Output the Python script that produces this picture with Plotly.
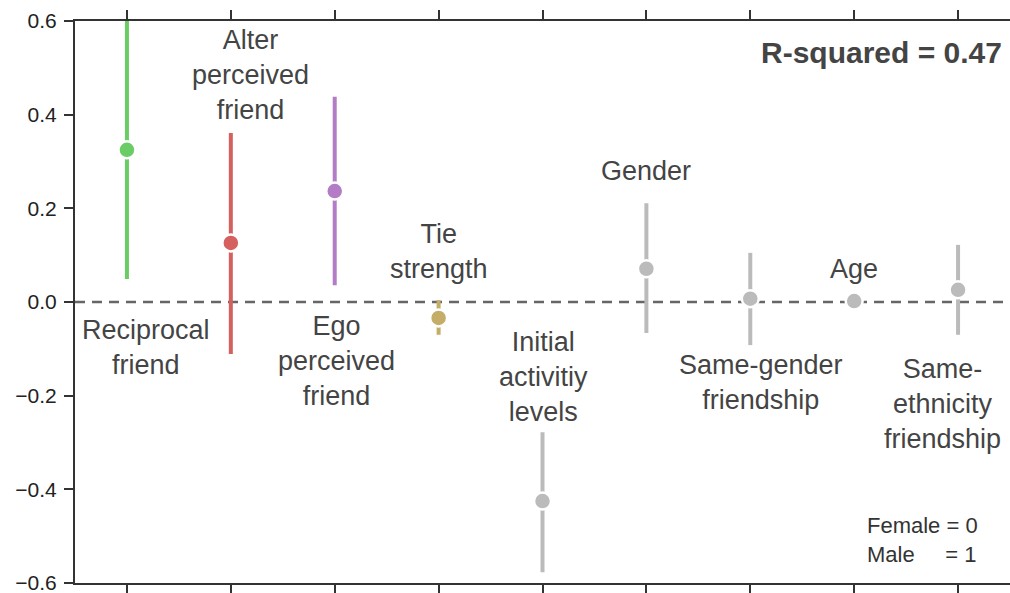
import plotly.graph_objects as go

# ---- data ----
categories = ["Reciprocal friend", "Alter perceived friend", "Ego perceived friend",
              "Tie strength", "Initial activitiy levels", "Gender",
              "Same-gender friendship", "Age", "Same-ethnicity friendship"]
estimates = [0.325, 0.126, 0.237, -0.034, -0.425, 0.071, 0.007, 0.002, 0.026]
ci_upper = [0.620, 0.361, 0.438, 0.004, -0.278, 0.211, 0.105, 0.004, 0.122]
ci_lower = [0.049, -0.111, 0.036, -0.070, -0.577, -0.066, -0.092, 0.000, -0.070]
colors = ["#6ACC65", "#D65F5F", "#B47CC7", "#C4AD66", "#BBBBBB",
          "#BBBBBB", "#BBBBBB", "#BBBBBB", "#BBBBBB"]
label_text = ["Reciprocal<br>friend", "Alter<br>perceived<br>friend", "Ego<br>perceived<br>friend",
              "Tie<br>strength", "Initial<br>activitiy<br>levels", "Gender",
              "Same-gender<br>friendship", "Age", "Same-<br>ethnicity<br>friendship"]
# label anchor (x offset in category units, y in data units)
label_x = [0.18, 0.19, 0.02, 0.0, 0.01, 0.0, 0.10, 0.0, -0.15]
label_y = [-0.097, 0.485, -0.126, 0.108, -0.160, 0.280, -0.172, 0.070, -0.218]
yticks = [-0.6, -0.4, -0.2, 0.0, 0.2, 0.4, 0.6]
ytick_text = [("\u2212" if v < 0 else "") + f"{abs(v):.1f}" for v in yticks]

FONT = "Liberation Sans, Arial, Helvetica, sans-serif"
xs = list(range(len(categories)))

fig = go.Figure()
fig.add_hline(y=0, line=dict(color="#666666", width=2.5, dash="10px,7px"), layer="below")

for i in xs:
    fig.add_trace(go.Scatter(
        x=[i], y=[estimates[i]], mode="markers",
        marker=dict(size=17, color=colors[i], line=dict(color="white", width=2.5)),
        error_y=dict(type="data", symmetric=False,
                     array=[ci_upper[i] - estimates[i]],
                     arrayminus=[estimates[i] - ci_lower[i]],
                     color=colors[i], thickness=4, width=0),
        showlegend=False, cliponaxis=True,
    ))

for i in xs:
    fig.add_annotation(x=i + label_x[i], y=label_y[i], text=label_text[i],
                       showarrow=False, xanchor="center", yanchor="middle",
                       font=dict(family=FONT, size=27, color="#444444"))

fig.add_annotation(x=1, y=1, xref="paper", yref="paper", xanchor="right", yanchor="top",
                   xshift=-6, yshift=-13,
                   text="<b>R-squared = 0.47</b>", showarrow=False,
                   font=dict(family=FONT, size=30, color="#444444"))
fig.add_annotation(x=1, y=0, xref="paper", yref="paper", xanchor="left", yanchor="bottom",
                   xshift=-145, yshift=14, align="left",
                   text="Female = 0<br>Male&nbsp;&nbsp;&nbsp;&nbsp;&nbsp;= 1", showarrow=False,
                   font=dict(family=FONT, size=22, color="#333333"))

fig.update_layout(
    width=1010, height=593,
    margin=dict(l=75, r=0, t=21, b=10),
    paper_bgcolor="white", plot_bgcolor="white",
    font=dict(family=FONT, color="#222222"),
    xaxis=dict(range=[-0.5, 8.5], tickvals=xs, ticktext=[""] * len(xs),
               ticks="outside", ticklen=9, tickwidth=1.5, tickcolor="#333333",
               showline=True, linecolor="#333333", linewidth=2, mirror="allticks",
               showgrid=False, zeroline=False),
    yaxis=dict(range=[-0.6, 0.6], tickvals=yticks, ticktext=ytick_text,
               ticks="outside", ticklen=9, tickwidth=1.5, tickcolor="#333333",
               showline=True, linecolor="#333333", linewidth=2,
               showgrid=False, zeroline=False, ticklabeloverflow="allow",
               ticklabelstandoff=3,
               tickfont=dict(size=21, color="#222222")),
)

fig.write_html("out.html")
